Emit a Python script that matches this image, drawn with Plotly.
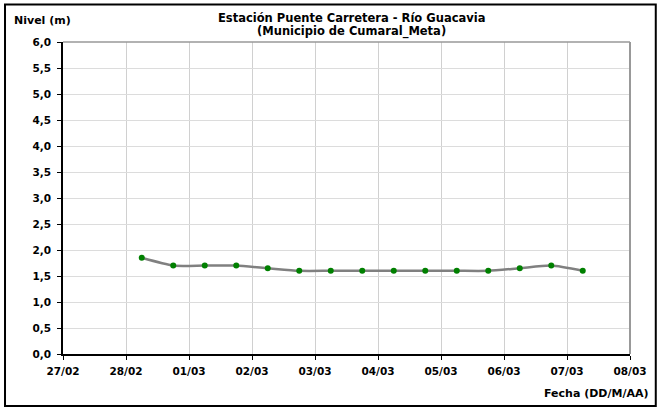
import plotly.graph_objects as go

##___Data___
fechas = [
    "2019-02-28 06:00", "2019-02-28 18:00",
    "2019-03-01 06:00", "2019-03-01 18:00",
    "2019-03-02 06:00", "2019-03-02 18:00",
    "2019-03-03 06:00", "2019-03-03 18:00",
    "2019-03-04 06:00", "2019-03-04 18:00",
    "2019-03-05 06:00", "2019-03-05 18:00",
    "2019-03-06 06:00", "2019-03-06 18:00",
    "2019-03-07 06:00",
]
nivel = [1.85, 1.70, 1.70, 1.70, 1.65, 1.60, 1.60, 1.60,
         1.60, 1.60, 1.60, 1.60, 1.65, 1.70, 1.60]

titulo_1 = "Estación Puente Carretera - Río Guacavia"
titulo_2 = "(Municipio de Cumaral_Meta)"

##___Layout in pixels___
W, H = 659, 409
L, R, T, B = 63, 24, 42, 55
pw, ph = W - L - R, H - T - B

font_b = "DejaVu Sans"

def px_x(px):
    return (px - L) / pw

def px_y(py):
    return (H - B - py) / ph

fig = go.Figure()
fig.add_trace(go.Scatter(
    x=fechas, y=nivel,
    mode="lines+markers",
    line=dict(color="#808080", width=2.5, shape="spline", smoothing=0.6),
    marker=dict(color="#008000", size=6),
    showlegend=False,
))

tick_font = dict(family=font_b, size=10.5, color="black", weight="bold")
lbl_font = dict(family=font_b, size=11, color="black", weight="bold")
title_font = dict(family=font_b, size=11.5, color="black", weight="bold")

fig.update_layout(
    width=W, height=H,
    margin=dict(l=L, r=R, t=T, b=B),
    paper_bgcolor="white", plot_bgcolor="white",
    separators=",.",
    xaxis=dict(
        type="date",
        range=["2019-02-27", "2019-03-08"],
        dtick=86400000, tick0="2019-02-27",
        tickformat="%d/%m",
        showgrid=True, gridcolor="#d0d0d0", gridwidth=1,
        showline=True, linecolor="black", linewidth=1.5,
        ticks="outside", ticklen=4, tickcolor="black",
        ticklabelstandoff=3,
        tickfont=tick_font, zeroline=False,
    ),
    yaxis=dict(
        range=[0, 6], dtick=0.5, tickformat=".1f",
        showgrid=True, gridcolor="#dcdcdc", gridwidth=1,
        showline=True, linecolor="black", linewidth=1.5,
        ticks="outside", ticklen=4, tickcolor="black",
        ticklabelstandoff=4,
        tickfont=tick_font, zeroline=False,
    ),
    annotations=[
        dict(text=titulo_1, xref="paper", yref="paper", x=px_x(354), y=px_y(17.5),
             xanchor="center", yanchor="middle", showarrow=False, font=title_font),
        dict(text=titulo_2, xref="paper", yref="paper", x=px_x(354), y=px_y(32),
             xanchor="center", yanchor="middle", showarrow=False, font=title_font),
        dict(text="Nivel (m)", xref="paper", yref="paper", x=px_x(12), y=px_y(20),
             xanchor="left", yanchor="middle", showarrow=False, font=lbl_font),
        dict(text="Fecha (DD/M/AA)", xref="paper", yref="paper", x=px_x(655), y=px_y(393),
             xanchor="right", yanchor="middle", showarrow=False, font=lbl_font),
    ],
    shapes=[
        # gray top and right plot border
        dict(type="line", xref="paper", yref="paper", x0=0, x1=1, y0=1, y1=1,
             line=dict(color="#999999", width=1.5)),
        dict(type="line", xref="paper", yref="paper", x0=1, x1=1, y0=0, y1=1,
             line=dict(color="#999999", width=2)),
        # outer chart frame
        dict(type="rect", xref="paper", yref="paper",
             x0=px_x(4.5), x1=px_x(661), y0=px_y(406), y1=px_y(4.5),
             line=dict(color="black", width=2)),
    ],
)

fig.write_html("out.html", config={"displayModeBar": False},
               post_script="document.body.style.margin='0';")
